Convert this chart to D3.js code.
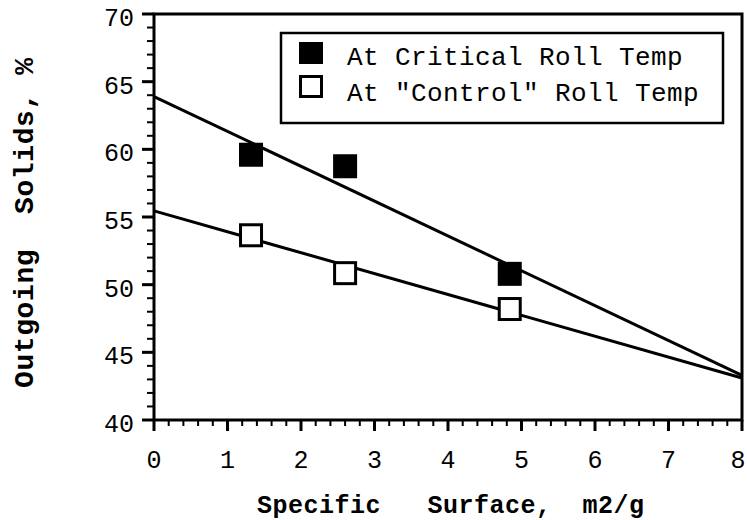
<!DOCTYPE html>
<html>
<head>
<meta charset="utf-8">
<script src="https://cdn.jsdelivr.net/npm/d3@7"></script>
<style>
  html, body { margin: 0; padding: 0; background: #fff; }
  svg { display: block; }
  text { white-space: pre; }
</style>
</head>
<body>
<svg id="chart" width="747" height="520"></svg>
<script>
// Specific surface (m2/g) of each sample
const surface = [1.32, 2.6, 4.84];
// Outgoing solids (%) measured at the two roll temperatures
const criticalSolids = [59.6, 58.75, 50.8];
const controlSolids = [53.65, 50.85, 48.2];
// Straight-line fits, evaluated at the ends of the surface range
const fitSurface = [0, 8];
const criticalFit = [63.9, 43.3];
const controlFit = [55.45, 43.1];
// Axis ticks and labels
const xTicks = [0, 1, 2, 3, 4, 5, 6, 7, 8];
const yTicks = [40, 45, 50, 55, 60, 65, 70];
const seriesNames = ['At Critical Roll Temp', 'At "Control" Roll Temp'];
const xTitle = 'Specific   Surface,  m2/g';
const yTitle = 'Outgoing  Solids, %';

const svg = d3.select('#chart');
const plotLeft = 154, plotRight = 742, plotTop = 14, plotBottom = 420;
const x = d3.scaleLinear().domain([0, 8]).range([plotLeft, plotRight]);
const y = d3.scaleLinear().domain([40, 70]).range([plotBottom, plotTop]);

const ink = '#000';
const mono = '"Liberation Mono", "Courier New", monospace';

// Minor ticks
const xMinor = d3.range(0, 8.001, 0.2).filter(v => Math.abs(v - Math.round(v)) > 1e-6);
const yMinor = d3.range(40, 70.001, 1).filter(v => v % 5 !== 0);

svg.append('g').selectAll('line').data(xMinor).join('line')
  .attr('x1', d => x(d)).attr('x2', d => x(d))
  .attr('y1', plotBottom).attr('y2', plotBottom + 6)
  .attr('stroke', ink).attr('stroke-width', 2);
svg.append('g').selectAll('line').data(yMinor).join('line')
  .attr('x1', plotLeft - 7).attr('x2', plotLeft)
  .attr('y1', d => y(d)).attr('y2', d => y(d))
  .attr('stroke', ink).attr('stroke-width', 2);

// Major ticks
svg.append('g').selectAll('line').data(xTicks).join('line')
  .attr('x1', d => x(d)).attr('x2', d => x(d))
  .attr('y1', plotBottom).attr('y2', plotBottom + 11)
  .attr('stroke', ink).attr('stroke-width', 3);
svg.append('g').selectAll('line').data(yTicks).join('line')
  .attr('x1', plotLeft - 12).attr('x2', plotLeft)
  .attr('y1', d => y(d)).attr('y2', d => y(d))
  .attr('stroke', ink).attr('stroke-width', 3);

// Frame
svg.append('rect')
  .attr('x', plotLeft).attr('y', plotTop)
  .attr('width', plotRight - plotLeft).attr('height', plotBottom - plotTop)
  .attr('fill', 'none').attr('stroke', ink).attr('stroke-width', 3);

// Tick labels
svg.append('g').selectAll('text').data(xTicks).join('text')
  .attr('x', d => Math.min(x(d), 738)).attr('y', 468)
  .attr('text-anchor', 'middle')
  .attr('font-family', mono).attr('font-size', 25)
  .attr('fill', ink)
  .text(d => d);
svg.append('g').selectAll('text').data(yTicks).join('text')
  .attr('x', 134).attr('y', d => y(d) + 12)
  .attr('text-anchor', 'end')
  .attr('font-family', mono).attr('font-size', 25)
  .attr('fill', ink)
  .text(d => d);

// Axis titles
svg.append('text')
  .attr('x', 257).attr('y', 513)
  .attr('text-anchor', 'start')
  .attr('font-family', mono).attr('font-size', 25).attr('font-weight', 'bold')
  .attr('letter-spacing', 0.5)
  .attr('fill', ink)
  .text(xTitle);
svg.append('text')
  .attr('transform', 'translate(33, 388) rotate(-90)')
  .attr('text-anchor', 'start')
  .attr('font-family', mono).attr('font-size', 28).attr('font-weight', 'bold')
  .attr('letter-spacing', 0.6)
  .attr('fill', ink)
  .text(yTitle);

// Fit lines
const line = d3.line().x(d => x(d[0])).y(d => y(d[1]));
[criticalFit, controlFit].forEach(fit => {
  svg.append('path')
    .datum(fitSurface.map((s, i) => [s, fit[i]]))
    .attr('d', line)
    .attr('fill', 'none').attr('stroke', ink).attr('stroke-width', 3);
});

// Markers
const size = 24;
svg.append('g').selectAll('rect').data(surface.map((s, i) => [s, criticalSolids[i]])).join('rect')
  .attr('x', d => x(d[0]) - size / 2).attr('y', d => y(d[1]) - size / 2)
  .attr('width', size).attr('height', size)
  .attr('fill', ink);
svg.append('g').selectAll('rect').data(surface.map((s, i) => [s, controlSolids[i]])).join('rect')
  .attr('x', d => x(d[0]) - (size - 3) / 2).attr('y', d => y(d[1]) - (size - 3) / 2)
  .attr('width', size - 3).attr('height', size - 3)
  .attr('fill', '#fff').attr('stroke', ink).attr('stroke-width', 3);

// Legend
const legend = svg.append('g');
legend.append('rect')
  .attr('x', 281).attr('y', 33).attr('width', 442).attr('height', 90)
  .attr('fill', '#fff').attr('stroke', ink).attr('stroke-width', 2.5);
legend.append('rect')
  .attr('x', 299).attr('y', 42).attr('width', 24).attr('height', 22)
  .attr('fill', ink);
legend.append('rect')
  .attr('x', 300.5).attr('y', 76.5).attr('width', 21).attr('height', 20)
  .attr('fill', '#fff').attr('stroke', ink).attr('stroke-width', 3);
legend.selectAll('text.series').data(seriesNames).join('text')
  .attr('class', 'series')
  .attr('x', 347).attr('y', (d, i) => 65 + i * 36)
  .attr('font-family', mono).attr('font-size', 26)
  .attr('letter-spacing', 0.4)
  .attr('fill', ink)
  .text(d => d);
</script>
</body>
</html>
